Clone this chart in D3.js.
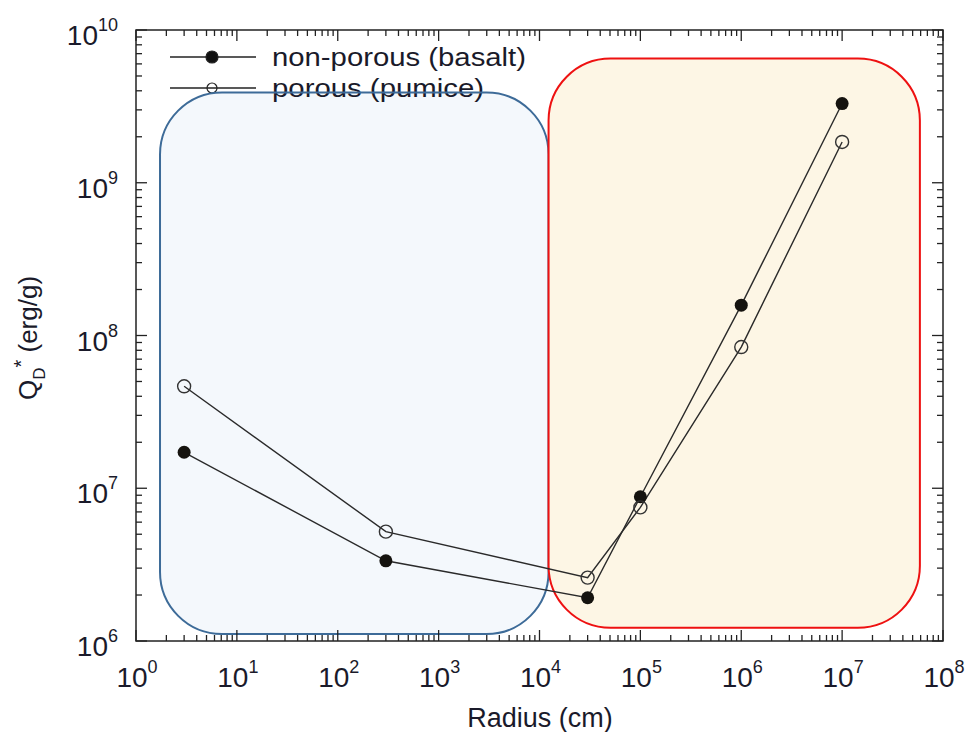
<!DOCTYPE html>
<html><head><meta charset="utf-8">
<script src="https://cdn.jsdelivr.net/npm/d3@7"></script>
<style>body{margin:0;background:#fff}svg{display:block}</style>
</head><body>
<svg id="c" width="967" height="732"></svg>
<script>
// ---- data ----
const radius = [3, 300, 3e4, 1e5, 1e6, 1e7];
const nonPorous = [1.72e7, 3.35e6, 1.92e6, 8.8e6, 1.58e8, 3.3e9];
const porous = [4.65e7, 5.2e6, 2.6e6, 7.5e6, 8.4e7, 1.85e9];
const seriesNames = ["non-porous (basalt)", "porous (pumice)"];
const xTickExp = [0,1,2,3,4,5,6,7,8];
const yTickExp = [6,7,8,9,10];
// shaded regions [x0,x1,y0,y1] in data units
const regionBlue = [1.73, 1.23e4, 1.11e6, 3.9e9];
const regionRed = [1.23e4, 5.9e7, 1.22e6, 6.5e9];

const svg = d3.select("#c");
const L = 136, R = 943, T = 30, B = 641;
const x = d3.scaleLog().domain([1, 1e8]).range([L, R]);
const y = d3.scaleLog().domain([1e6, 1e10]).range([B, T]);
const font = "Liberation Sans, Arial, sans-serif";
const ink = "#1a1a2a";

// regions
function region(r, fill, stroke) {
  const x0 = x(r[0]), x1 = x(r[1]), y0 = y(r[3]), y1 = y(r[2]);
  return svg.append("rect").attr("x", x0).attr("y", y0).attr("width", x1 - x0).attr("height", y1 - y0)
    .attr("rx", 62).attr("ry", 62).attr("fill", fill).attr("stroke", stroke).attr("stroke-width", 2);
}

// region fills
region(regionBlue, "#f4f8fc", "none");

// legend
const lg = svg.append("g");
seriesNames.forEach((n, i) => {
  const ly = 57 + i * 31;
  lg.append("line").attr("x1", 170).attr("x2", 256).attr("y1", ly).attr("y2", ly).attr("stroke", "#222").attr("stroke-width", 1.3);
  lg.append("circle").attr("cx", 212).attr("cy", ly).attr("r", i === 0 ? 6 : 5)
    .attr("fill", i === 0 ? "#111" : "none").attr("stroke", "#222").attr("stroke-width", 1.2);
  lg.append("text").attr("x", 272).attr("y", ly + 9).attr("font-family", font).attr("font-size", 26)
    .attr("fill", ink).attr("textLength", i === 0 ? 254 : 212).attr("lengthAdjust", "spacingAndGlyphs").text(n);
});

// region outlines (blue), then red region on top
region(regionBlue, "none", "#3d6b98");
region(regionRed, "#fdf6e5", "#ee1111");

// frame
svg.append("rect").attr("x", L).attr("y", T).attr("width", R - L).attr("height", B - T)
  .attr("fill", "none").attr("stroke", "#222").attr("stroke-width", 1.5);

// ticks
const minorX = [], minorY = [];
for (let e = 0; e < 8; e++) for (let m = 2; m < 10; m++) minorX.push(m * Math.pow(10, e));
for (let e = 6; e < 10; e++) for (let m = 2; m < 10; m++) minorY.push(m * Math.pow(10, e));
const tk = svg.append("g").attr("stroke", "#222").attr("stroke-width", 1.3);
xTickExp.forEach(e => {
  const px = x(Math.pow(10, e));
  tk.append("line").attr("x1", px).attr("x2", px).attr("y1", B).attr("y2", B - 11);
  tk.append("line").attr("x1", px).attr("x2", px).attr("y1", T).attr("y2", T + 11);
});
minorX.forEach(v => {
  const px = x(v);
  tk.append("line").attr("x1", px).attr("x2", px).attr("y1", B).attr("y2", B - 6);
  tk.append("line").attr("x1", px).attr("x2", px).attr("y1", T).attr("y2", T + 6);
});
yTickExp.forEach(e => {
  const py = y(Math.pow(10, e));
  tk.append("line").attr("x1", L).attr("x2", L + 11).attr("y1", py).attr("y2", py);
  tk.append("line").attr("x1", R).attr("x2", R - 11).attr("y1", py).attr("y2", py);
});
minorY.forEach(v => {
  const py = y(v);
  tk.append("line").attr("x1", L).attr("x2", L + 6).attr("y1", py).attr("y2", py);
  tk.append("line").attr("x1", R).attr("x2", R - 6).attr("y1", py).attr("y2", py);
});

// tick labels
function powLabel(g, px, py, e, anchor) {
  const t = g.append("text").attr("x", px).attr("y", py).attr("font-family", font)
    .attr("font-size", 28).attr("fill", ink).attr("text-anchor", anchor);
  t.append("tspan").text("10");
  t.append("tspan").attr("dy", -14).attr("font-size", 18).text(e);
}
const lab = svg.append("g");
xTickExp.forEach(e => powLabel(lab, x(Math.pow(10, e)) + 1, B + 46, e, "middle"));
yTickExp.forEach(e => powLabel(lab, L - 18, y(Math.pow(10, e)) + 15, e, "end"));

// axis titles
svg.append("text").attr("x", 540).attr("y", 727).attr("text-anchor", "middle")
  .attr("font-family", font).attr("font-size", 27).attr("fill", ink).text("Radius (cm)");
const yt = svg.append("text").attr("transform", `translate(37,338) rotate(-90)`)
  .attr("text-anchor", "middle").attr("font-family", font).attr("font-size", 26).attr("fill", ink);
yt.append("tspan").text("Q");
yt.append("tspan").attr("dy", 8).attr("font-size", 17).text("D");
yt.append("tspan").attr("dy", -17).attr("font-size", 20).text("*");
yt.append("tspan").attr("dy", 9).text(" (erg/g)");

// series
const line = d3.line().x(d => x(d[0])).y(d => y(d[1]));
const sNP = radius.map((r, i) => [r, nonPorous[i]]);
const sP = radius.map((r, i) => [r, porous[i]]);
[sNP, sP].forEach(s => svg.append("path").attr("d", line(s)).attr("fill", "none")
  .attr("stroke", "#2a2a2a").attr("stroke-width", 1.4));
svg.append("g").selectAll("circle").data(sNP).join("circle")
  .attr("cx", d => x(d[0])).attr("cy", d => y(d[1])).attr("r", 6.5).attr("fill", "#15130f");
svg.append("g").selectAll("circle").data(sP).join("circle")
  .attr("cx", d => x(d[0])).attr("cy", d => y(d[1])).attr("r", 6.5).attr("fill", "none")
  .attr("stroke", "#333").attr("stroke-width", 1.4);
</script>
</body></html>
